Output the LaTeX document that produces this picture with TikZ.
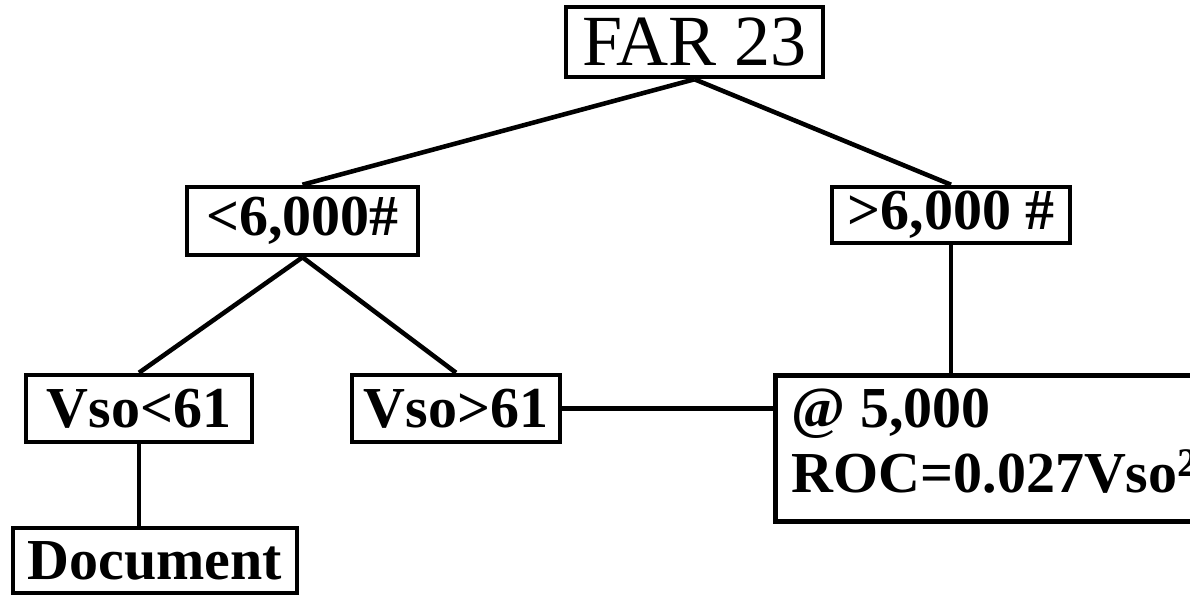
\documentclass[tikz,border=0pt]{standalone}
\usepackage{fontspec}
\setmainfont{Liberation Serif}
\usetikzlibrary{positioning, calc}

\begin{document}
\begin{tikzpicture}[x=0.02cm, y=-0.02cm,
    box/.style={draw, line width=2.6pt, inner sep=0pt,
                font=\bfseries\fontsize{33}{37}\selectfont},
    link/.style={line width=2.6pt}]
  \useasboundingbox (0,0) rectangle (1190,595);

  % tree boxes
  \node[box, font=\fontsize{41}{44}\selectfont,
        minimum width=5.14cm, minimum height=1.4cm] (far) at (694.5,42) {FAR 23};
  \node[box, minimum width=4.62cm, minimum height=1.36cm] (light) at (302.5,221) {<6,000\#};
  \node[box, minimum width=4.76cm, minimum height=1.12cm] (heavy) at (951,215) {>6,000 \#};
  \node[box, minimum width=4.52cm, minimum height=1.34cm] (vsolow) at (139,408.5) {Vso<61};
  \node[box, minimum width=4.16cm, minimum height=1.34cm] (vsohigh) at (456,408.5) {Vso>61};
  \node[box, minimum width=5.68cm, minimum height=1.3cm] (doc) at (155,560.5) {Document};
  \node[box, anchor=north west, align=left, inner xsep=7pt, text depth=0.3cm,
        minimum width=8.8cm, minimum height=2.92cm] (roc) at (773,373)
        {@ 5,000\\ROC=0.027Vso\textsuperscript{2}};

  % connectors
  \draw[link] (far.south) -- (light.north);
  \draw[link] (far.south) -- (heavy.north);
  \draw[link] (light.south) -- (vsolow.north);
  \draw[link] (light.south) -- (vsohigh.north);
  \draw[link] (vsolow.south) -- (vsolow.south |- doc.north);
  \draw[link] (heavy.south) -- (heavy.south |- roc.north);
  \draw[link] (vsohigh.east) -- (vsohigh.east -| roc.west);
\end{tikzpicture}
\end{document}
